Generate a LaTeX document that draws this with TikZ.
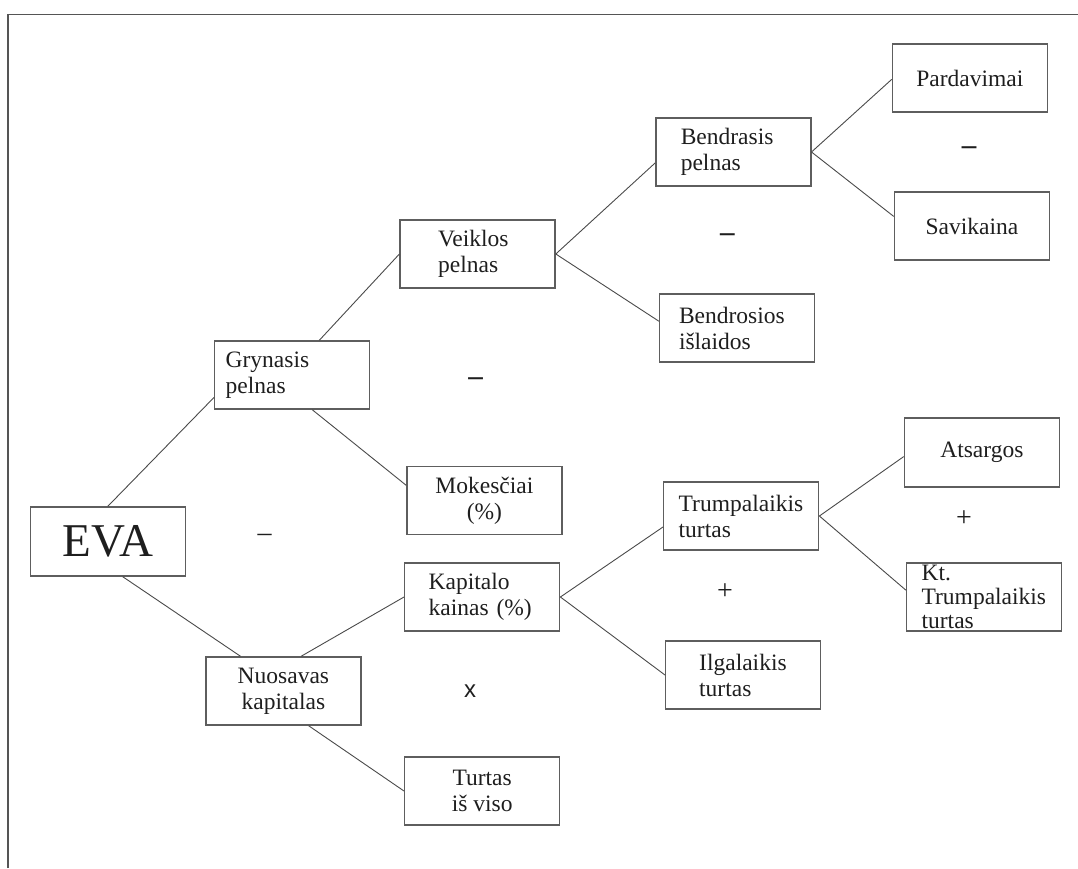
\documentclass[tikz,border=0pt]{standalone}
\usepackage{fontspec}
\setmainfont{Liberation Serif}
\newfontfamily\opsans{Liberation Sans}
\usepackage{xcolor}
\usetikzlibrary{positioning}
\definecolor{framegray}{HTML}{555555}
\definecolor{boxgray}{HTML}{5E5E5E}
\definecolor{linegray}{HTML}{4A4A4A}
\definecolor{inkgray}{HTML}{1E1E1E}
\tikzset{
  box/.style={draw=boxgray, line width=1.4pt, minimum height=68pt, inner ysep=0pt,
    text=inkgray, font=\fontsize{23.5}{26}\selectfont},
  cbox/.style={box, minimum width=155pt, align=center},
  lbox/.style 2 args={box, inner xsep=#1, text width=#2, align=left},
  link/.style={draw=linegray, line width=0.9pt},
  oper/.style={text=inkgray, font=\bfseries\fontsize{29}{30}\selectfont}
}

\begin{document}
\begin{tikzpicture}[x=1pt, y=-1pt]
    \useasboundingbox (0,0) rectangle (1078,868);

    % Frame
    \draw[framegray, line width=1.8pt] (8.3,868) -- (8.3,14.5) -- (1078,14.5);

    % Root
    \node[cbox, minimum height=69pt, font=\fontsize{47}{50}\selectfont] (eva) at (107.8,541.5) {EVA};

    % Profit branch
    \node[lbox={11pt}{133pt}] (gry) at (292.2,375) {Grynasis\\pelnas};
    \node[lbox={38pt}{79pt}] (vei) at (477.6,254) {Veiklos\\pelnas};
    \node[cbox] (mok) at (484.4,500.5) {Mokesčiai\\(\%)};
    \node[lbox={25pt}{105pt}] (ben) at (733.3,152) {Bendrasis\\pelnas};
    \node[lbox={19.5pt}{116pt}] (bis) at (737,328) {Bendrosios\\išlaidos};
    \node[cbox] (par) at (969.9,78) {Pardavimai};
    \node[cbox] (sav) at (971.9,226) {Savikaina};

    % Capital branch
    \node[cbox] (nuo) at (283.4,691) {Nuosavas\\kapitalas};
    \node[lbox={24pt}{107pt}] (kap) at (482.2,597) {Kapitalo\\kainas~(\%)};
    \node[cbox] (tur) at (482.2,791) {Turtas\\iš viso};
    \node[lbox={15pt}{125pt}] (tru) at (741.2,516) {Trumpalaikis\\turtas};
    \node[lbox={33.5pt}{88pt}] (ilg) at (743.2,675) {Ilgalaikis\\turtas};
    \node[cbox, minimum height=69pt] (ats) at (981.9,452.5) {Atsargos};
    \node[lbox={15pt}{125pt}, font=\fontsize{23.5}{24}\selectfont] (kt) at (984.1,597) {Kt.\\Trumpalaikis\\turtas};

    % Connectors
    \draw[link] (eva.north) -- (gry.196);
    \draw[link] (eva.-67) -- (nuo.141);
    \draw[link] (gry.52) -- (vei.west);
    \draw[link] (gry.-60) -- (mok.169);
    \draw[link] (vei.east) -- (ben.188);
    \draw[link] (vei.east) -- (bis.175);
    \draw[link] (ben.east) -- (par.181);
    \draw[link] (ben.east) -- (sav.173);
    \draw[link] (nuo.63) -- (kap.west);
    \draw[link] (nuo.-54) -- (tur.west);
    \draw[link] (kap.east) -- (tru.188);
    \draw[link] (kap.east) -- (ilg.west);
    \draw[link] (tru.east) -- (ats.183);
    \draw[link] (tru.east) -- (kt.175);

    % Operators
    \node[oper, font=\fontsize{28}{30}\selectfont] (op1) at (264.5,538) {–};
    \node[oper] (op2) at (475.5,382) {–};
    \node[oper] (op3) at (727.4,237.7) {–};
    \node[oper] (op4) at (969,151) {–};
    \node[oper, font=\opsans\fontsize{24}{26}\selectfont] (op5) at (470,691.5) {x};
    \node[oper, font=\fontsize{28}{30}\selectfont] (op6) at (725,592) {+};
    \node[oper, font=\fontsize{28}{30}\selectfont] (op7) at (964,518.3) {+};
\end{tikzpicture}
\end{document}
